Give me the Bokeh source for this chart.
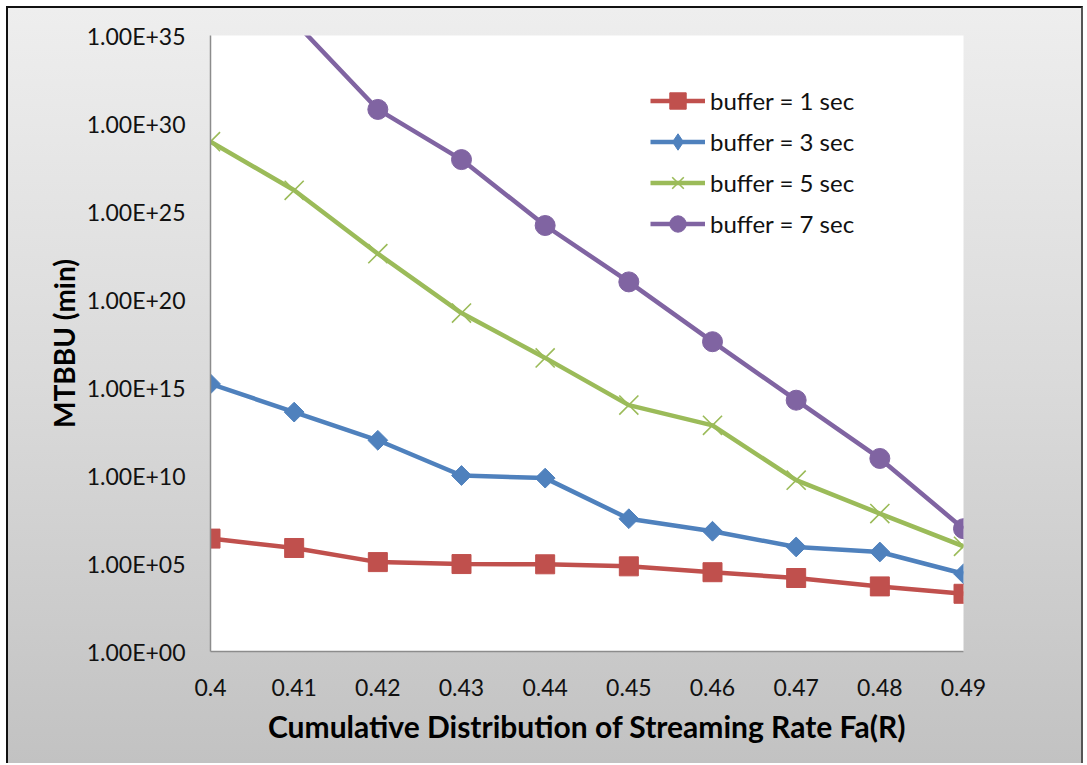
from bokeh.plotting import figure
from bokeh.models import (FixedTicker, CustomJSTickFormatter, Legend, LegendItem,
                          Range1d)
from bokeh.embed import file_html
from bokeh.resources import INLINE
import math

x_vals = [0.40, 0.41, 0.42, 0.43, 0.44, 0.45, 0.46, 0.47, 0.48, 0.49]
x_tick_labels = ["0.4", "0.41", "0.42", "0.43", "0.44", "0.45", "0.46", "0.47", "0.48", "0.49"]

buf1 = [2.6e6, 7.6e5, 1.2e5, 9.3e4, 9.0e4, 6.9e4, 3.2e4, 1.5e4, 5.0e3, 1.9e3]
buf3 = [1.6e15, 4.0e13, 1.0e12, 1.0e10, 7.1e9, 3.5e7, 6.8e6, 8.7e5, 4.5e5, 2.6e4]
buf5 = [9.3e28, 1.6e26, 4.0e22, 1.7e19, 4.8e16, 1.0e14, 7.1e12, 5.4e9, 6.9e7, 9.5e5]
buf7 = [3.0e39, 6.3e35, 6.3e30, 8.9e27, 1.6e24, 1.0e21, 4.0e17, 1.9e14, 9.3e10, 9.5e6]

series_names = ["buffer = 1 sec", "buffer = 3 sec", "buffer = 5 sec", "buffer = 7 sec"]
y_ticks = [1e0, 1e5, 1e10, 1e15, 1e20, 1e25, 1e30, 1e35]

FONT = "Lato"
NAN = float("nan")

p = figure(width=1077, height=757, y_axis_type="log",
           x_range=Range1d(0.40, 0.49), y_range=Range1d(1e0, 1e35),
           output_backend="svg", toolbar_location=None,
           min_border_left=202, min_border_right=122,
           min_border_top=27, min_border_bottom=114)

p.styles = {
    "background": "linear-gradient(to bottom, #eeeeee 0%, #dadada 50%, #c2c2c2 100%)",
    "border-left": "2px solid #111111",
    "border-top": "2px solid #111111",
    "border-right": "2px solid #555555",
    "margin-left": "6px",
    "margin-top": "6px",
}
p.border_fill_color = None
p.background_fill_color = "white"
p.outline_line_color = None
p.xgrid.visible = False
p.ygrid.visible = False

# axes
p.xaxis.ticker = FixedTicker(ticks=x_vals)
p.xaxis.major_label_overrides = {x: l for x, l in zip(x_vals, x_tick_labels)}
p.yaxis.ticker = FixedTicker(ticks=y_ticks)
p.yaxis.formatter = CustomJSTickFormatter(code="""
    const e = Math.round(Math.log10(tick));
    return "1.00E+" + String(e).padStart(2, "0");
""")
for ax in (p.xaxis, p.yaxis):
    ax.major_tick_line_color = None
    ax.minor_tick_line_color = None
    ax.axis_line_color = "#8c8c8c"
    ax.axis_line_width = 1.5
    ax.major_label_text_font = FONT
    ax.major_label_text_font_size = "23px"
    ax.major_label_text_color = "#111111"
    ax.axis_label_text_font = FONT
    ax.axis_label_text_font_style = "bold"
    ax.axis_label_text_color = "#000000"

p.xaxis.axis_label = "Cumulative Distribution of Streaming Rate Fa(R)"
p.yaxis.axis_label = "MTBBU (min)"
p.xaxis.axis_label_text_font_size = "30px"
p.yaxis.axis_label_text_font_size = "28px"
p.xaxis.major_label_standoff = 21
p.yaxis.major_label_standoff = 19
p.xaxis.axis_label_standoff = 9
p.yaxis.axis_label_standoff = 3

colors = ["#C0504D", "#4F81BD", "#9BBB59", "#8064A2"]
items = []

# buffer = 1
l1 = p.line(x_vals, buf1, line_color=colors[0], line_width=4.5)
m1 = p.scatter(x_vals, buf1, marker="square", size=19, fill_color=colors[0],
               line_color=colors[0])
items.append(LegendItem(label=series_names[0], renderers=[l1, m1]))

# buffer = 3
l3 = p.line(x_vals, buf3, line_color=colors[1], line_width=4.5)
m3 = p.scatter(x_vals, buf3, marker="square", size=14, angle=math.pi / 4,
               fill_color=colors[1], line_color=colors[1])
# legend-only diamond symbol (NaN point, never drawn in the plot)
k3 = p.scatter(x=[NAN], y=[NAN], marker="diamond", size=20,
               fill_color=colors[1], line_color=colors[1])
items.append(LegendItem(label=series_names[1], renderers=[l3, k3]))

# buffer = 5
l5 = p.line(x_vals, buf5, line_color=colors[2], line_width=4.5)
m5 = p.scatter(x_vals, buf5, marker="x", size=27, line_color=colors[2],
               line_width=1.6)
items.append(LegendItem(label=series_names[2], renderers=[l5, m5]))

# buffer = 7
l7 = p.line(x_vals, buf7, line_color=colors[3], line_width=4.5)
m7 = p.scatter(x_vals, buf7, marker="circle", size=20, fill_color=colors[3],
               line_color=colors[3])
items.append(LegendItem(label=series_names[3], renderers=[l7, m7]))

legend = Legend(items=items, location=(440, 407))
legend.background_fill_alpha = 0
legend.border_line_color = None
legend.label_text_font = FONT
legend.label_text_font_size = "24px"
legend.label_text_color = "#111111"
legend.glyph_width = 55
legend.glyph_height = 41
legend.label_height = 41
legend.label_standoff = 5
legend.spacing = 0
legend.padding = 0
legend.margin = 0
p.add_layout(legend, "center")

open("out.html", "w").write(file_html(p, INLINE))
